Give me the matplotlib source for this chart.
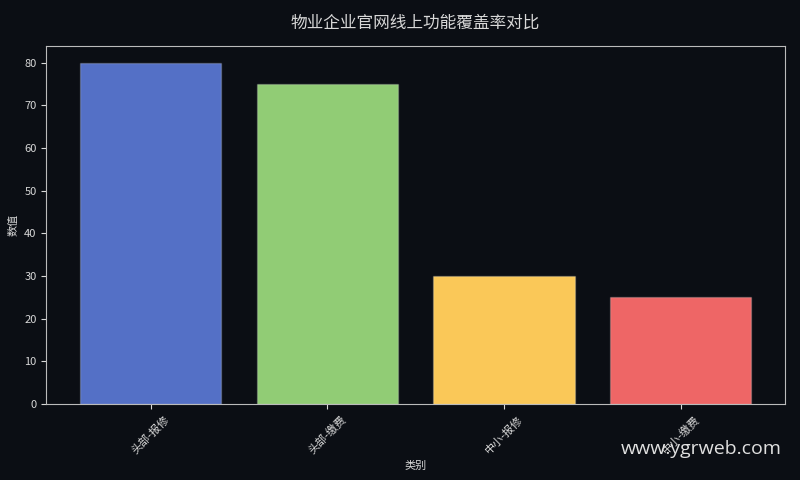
import matplotlib
matplotlib.use("Agg")
import matplotlib.pyplot as plt

plt.rcParams["font.family"] = ["Noto Sans CJK SC", "DejaVu Sans"]

categories = ["头部-报修", "头部-缴费", "中小-报修", "中小-缴费"]
values = [80, 75, 30, 25]
colors = ["#5470c6", "#91cc75", "#fac858", "#ee6666"]

bg = "#0b0e14"
fg = "#d8d8d8"

fig, ax = plt.subplots(figsize=(8, 4.8), dpi=100)
fig.patch.set_facecolor(bg)
ax.set_facecolor(bg)

ax.bar(categories, values, color=colors, width=0.8, edgecolor="#ffffff33", linewidth=1)

ax.set_title("物业企业官网线上功能覆盖率对比", color=fg, fontsize=12, pad=13)
ax.set_xlabel("类别", color=fg, fontsize=8)
ax.set_ylabel("数值", color=fg, fontsize=8)
ax.tick_params(colors=fg, labelsize=8)
plt.xticks(rotation=45)
for s in ax.spines.values():
    s.set_color("#bbbbbb")

fig.text(0.977, 0.065, "www.ygrweb.com", color="#e0e0e0", fontsize=14,
         ha="right", va="center", family=["Open Sans", "DejaVu Sans"])

plt.subplots_adjust(left=0.058, right=0.981, top=0.905, bottom=0.158)
plt.savefig("out.png", facecolor=bg)
